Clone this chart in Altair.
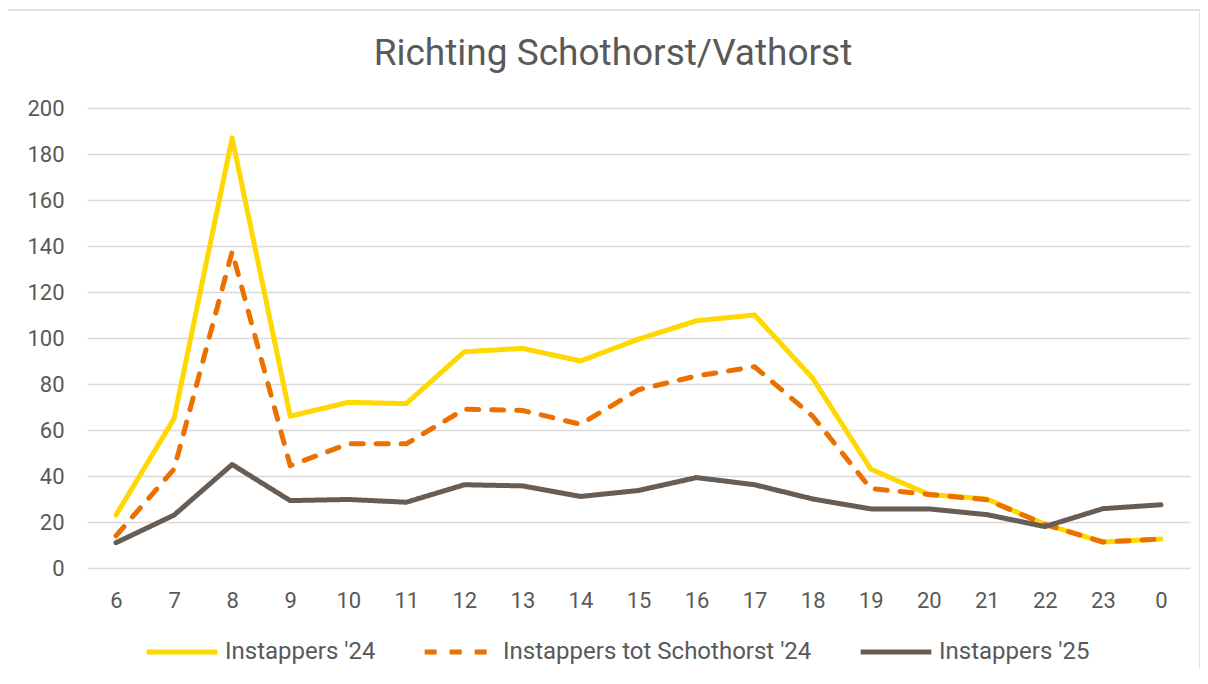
import altair as alt
import pandas as pd

hours = ["6", "7", "8", "9", "10", "11", "12", "13", "14", "15", "16", "17", "18", "19", "20", "21", "22", "23", "0"]
inst24 = [23, 65, 187, 66, 72, 71.5, 94, 95.5, 90, 99.5, 107.5, 110, 82.5, 43, 32, 30, 19, 11.3, 12.6]
inst_tot = [14, 43, 137.5, 44.5, 54, 54, 69, 68.5, 62.5, 77.5, 83.5, 87.5, 66, 34.5, 32, 29.7, 19, 11.3, 12.6]
inst25 = [11, 23, 45, 29.3, 29.8, 28.6, 36.2, 35.7, 31.1, 33.7, 39.3, 36.2, 30, 25.7, 25.7, 23.2, 18, 25.8, 27.5]

series_names = ["Instappers '24", "Instappers tot Schothorst '24", "Instappers '25"]
colors = ["#FFD800", "#EB7000", "#675D55"]
dashes = [[1, 0], [12, 13], [1, 0]]
title_text = ["Richting Schothorst/Vathorst"]

rows = []
for name, vals in zip(series_names, [inst24, inst_tot, inst25]):
    for h, v in zip(hours, vals):
        rows.append({"hour": h, "value": v, "series": name})
df = pd.DataFrame(rows)

FONT = "Roboto"
TXT = "#595959"

border = alt.Chart(pd.DataFrame({"a": [0]})).mark_rect(
    fill="transparent", stroke="#D9D9D9", strokeWidth=1.5
).encode(
    x=alt.value(-80), x2=alt.value(1113), y=alt.value(-98), y2=alt.value(572)
)

title = alt.Chart(pd.DataFrame({"t": title_text})).mark_text(
    font=FONT, fontSize=37, color=TXT, align="center", baseline="alphabetic"
).encode(text="t:N", x=alt.value(526), y=alt.value(-43))

lines = alt.Chart(df).mark_line(strokeWidth=5, strokeCap="round", strokeJoin="round").encode(
    x=alt.X("hour:O", sort=hours,
            scale=alt.Scale(type="point", padding=0.5),
            axis=alt.Axis(title=None, labelAngle=0, domain=False, ticks=False,
                          labelPadding=22, labelFontSize=22, labelColor=TXT, labelFont=FONT)),
    y=alt.Y("value:Q",
            scale=alt.Scale(domain=[0, 200], nice=False),
            axis=alt.Axis(title=None, values=list(range(0, 201, 20)), domain=False, ticks=False,
                          labelPadding=23, labelFontSize=22, labelColor=TXT, labelFont=FONT,
                          gridColor="#D9D9D9", gridWidth=1.5)),
    color=alt.Color("series:N", sort=series_names,
                    scale=alt.Scale(domain=series_names, range=colors),
                    legend=alt.Legend(title=None, orient="none", direction="horizontal",
                                      legendX=57, legendY=506,
                                      symbolType="stroke", symbolSize=5000, symbolStrokeWidth=5,
                                      labelFontSize=24, labelColor=TXT, labelFont=FONT,
                                      labelLimit=500, labelOffset=5, columnPadding=38)),
    strokeDash=alt.StrokeDash("series:N", sort=series_names,
                              scale=alt.Scale(domain=series_names, range=dashes),
                              legend=None),
    order=alt.Order("series:N"),
)

chart = alt.layer(border, title, lines).properties(
    width=1103, height=460,
    autosize=alt.AutoSizeParams(type="none"),
    padding={"left": 79, "top": 100, "right": 10, "bottom": 100},
).configure_view(stroke=None).configure_axis(grid=True).configure_axisX(grid=False)

chart.save("out.html", embed_options={"renderer": "svg", "actions": False})
